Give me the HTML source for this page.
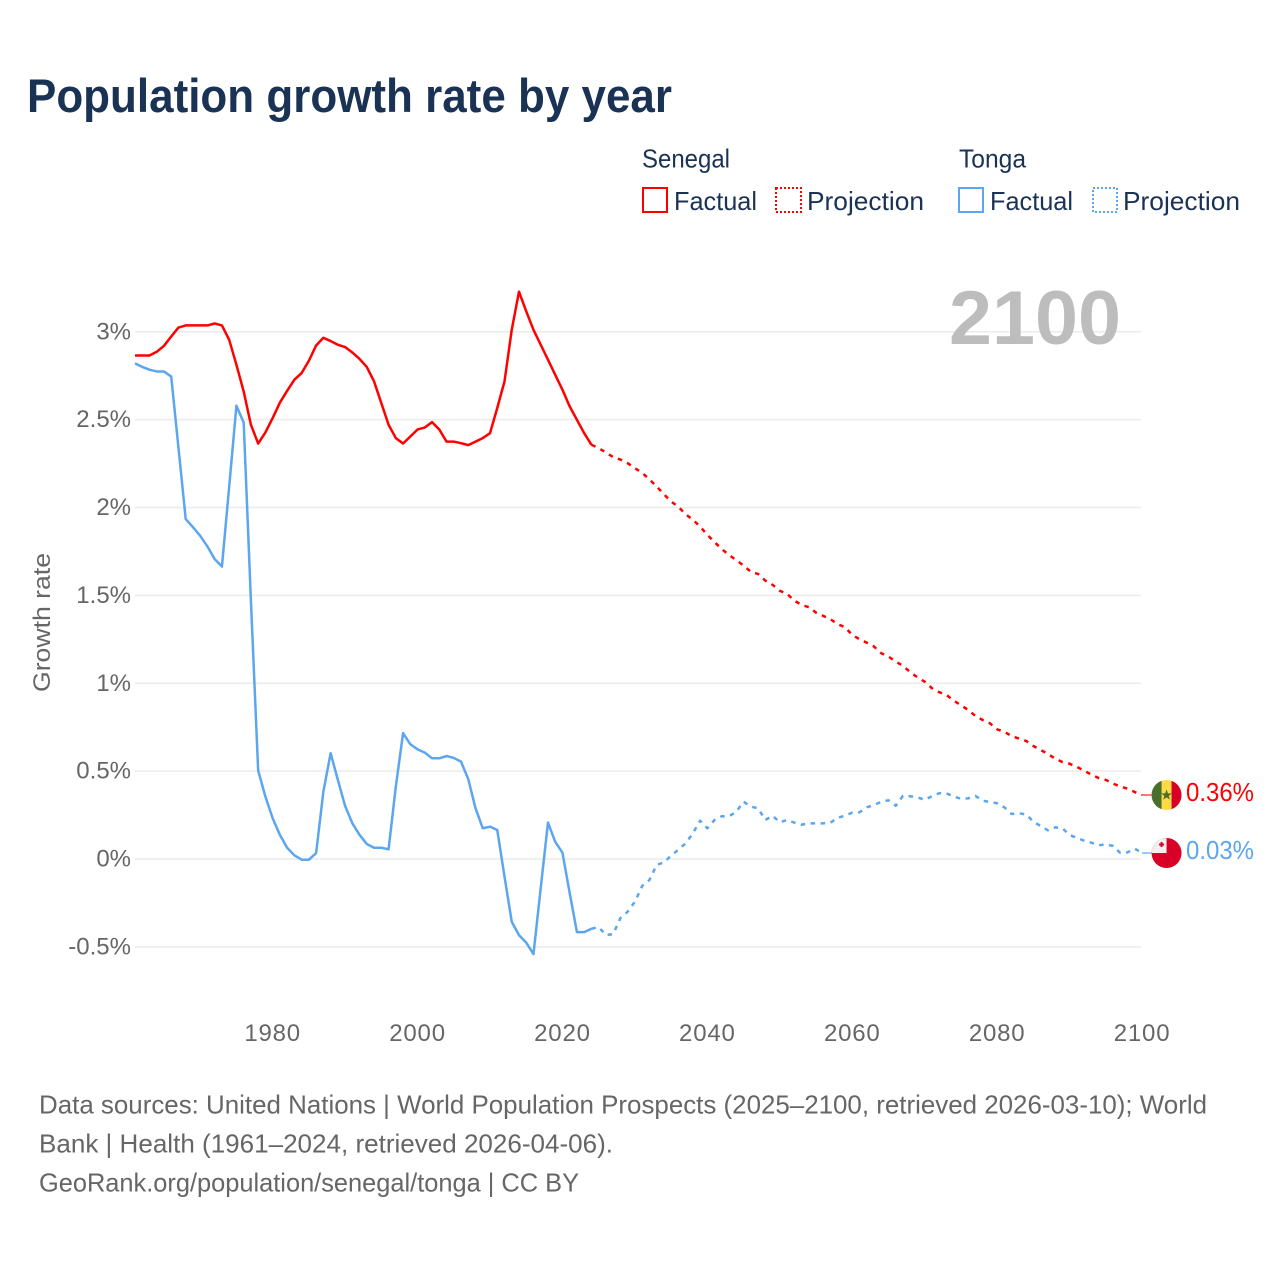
<!DOCTYPE html>
<html lang="en">
<head>
<meta charset="utf-8">
<title>Population growth rate by year</title>
<style>
html,body{margin:0;padding:0;background:#fff}
svg{display:block}
text{font-family:"Liberation Sans",sans-serif}
</style>
</head>
<body>
<svg id="chart" xmlns="http://www.w3.org/2000/svg" width="1280" height="1280" viewBox="0 0 1280 1280">
  <rect x="0" y="0" width="1280" height="1280" fill="#ffffff"/>
  <text x="27" y="112" font-size="47" font-weight="700" fill="#1a3354" textLength="645" lengthAdjust="spacingAndGlyphs">Population growth rate by year</text>

  <g font-size="26" fill="#1a3354">
    <text x="642" y="167.5" textLength="88" lengthAdjust="spacingAndGlyphs">Senegal</text>
    <text x="959" y="167.5" textLength="67" lengthAdjust="spacingAndGlyphs">Tonga</text>
    <rect x="643" y="188" width="24" height="24" fill="none" stroke="#ff0000" stroke-width="2"/>
    <text x="674" y="210" textLength="83" lengthAdjust="spacingAndGlyphs">Factual</text>
    <rect x="776" y="188" width="25" height="24" fill="none" stroke="#ff0000" stroke-width="2" stroke-dasharray="2 2"/>
    <text x="807" y="210" textLength="117" lengthAdjust="spacingAndGlyphs">Projection</text>
    <rect x="959" y="188" width="24" height="24" fill="none" stroke="#5ba6ee" stroke-width="2"/>
    <text x="990" y="210" textLength="83" lengthAdjust="spacingAndGlyphs">Factual</text>
    <rect x="1093" y="188" width="24" height="24" fill="none" stroke="#5ba6ee" stroke-width="2" stroke-dasharray="2 2"/>
    <text x="1123" y="210" textLength="117" lengthAdjust="spacingAndGlyphs">Projection</text>
  </g>

  <g id="grid"></g>
  <text x="949" y="344" font-size="76" font-weight="700" fill="#bdbdbd" textLength="172" lengthAdjust="spacingAndGlyphs">2100</text>
  <g id="yLabels" font-size="24" fill="#666666" text-anchor="end"></g>
  <g id="xLabels" font-size="24" fill="#666666" text-anchor="middle" letter-spacing="0.8"></g>
  <text transform="translate(50,692) rotate(-90)" x="0" y="0" font-size="24" fill="#666666" textLength="139" lengthAdjust="spacingAndGlyphs">Growth rate</text>

  <g fill="none" stroke-width="2.5" stroke-linejoin="round">
    <path id="senegalFactualLine" stroke="#ff0000"/>
    <path id="senegalProjectionLine" stroke="#ff0000" stroke-width="2.5" stroke-dasharray="4.5 5.5"/>
    <path id="tongaFactualLine" stroke="#5ba6ee"/>
    <path id="tongaProjectionLine" stroke="#5ba6ee" stroke-width="2.5" stroke-dasharray="4.5 5.5"/>
    <path id="senegalConnector" stroke="#ff0000" stroke-width="1.5" opacity="0.7"/>
    <path id="tongaConnector" stroke="#5ba6ee" stroke-width="1.5" opacity="0.8"/>
  </g>

  <defs>
    <clipPath id="flagClip"><circle cx="0" cy="0" r="15"/></clipPath>
  </defs>
  <g id="senegalFlag">
    <g clip-path="url(#flagClip)">
      <rect x="-15" y="-15" width="30" height="30" fill="#ffda44"/>
      <rect x="-15" y="-15" width="10" height="30" fill="#496e2d"/>
      <rect x="5" y="-15" width="10" height="30" fill="#d80027"/>
      <polygon points="0,-5.5 1.4,-1.6 5.4,-1.6 2.2,0.8 3.4,4.6 0,2.3 -3.4,4.6 -2.2,0.8 -5.4,-1.6 -1.4,-1.6" fill="#496e2d"/>
    </g>
  </g>
  <g id="tongaFlag">
    <g clip-path="url(#flagClip)">
      <rect x="-15" y="-15" width="30" height="30" fill="#d80027"/>
      <rect x="-15" y="-15" width="15" height="15" fill="#f0f0f0"/>
      <rect x="-7.5" y="-9.5" width="5" height="2" fill="#d80027"/>
      <rect x="-6" y="-11" width="2" height="5" fill="#d80027"/>
    </g>
  </g>
  <text id="senegalValue" x="1186" font-size="26" fill="#ff0000" textLength="68" lengthAdjust="spacingAndGlyphs"></text>
  <text id="tongaValue" x="1186" font-size="26" fill="#5ba6ee" textLength="68" lengthAdjust="spacingAndGlyphs"></text>

  <g font-size="26" fill="#666666">
    <text x="39" y="1113.5" textLength="1168" lengthAdjust="spacingAndGlyphs">Data sources: United Nations | World Population Prospects (2025–2100, retrieved 2026-03-10); World</text>
    <text x="39" y="1152.5" textLength="574" lengthAdjust="spacingAndGlyphs">Bank | Health (1961–2024, retrieved 2026-04-06).</text>
    <text x="39" y="1191.5" textLength="540" lengthAdjust="spacingAndGlyphs">GeoRank.org/population/senegal/tonga | CC BY</text>
  </g>
</svg>
<script>
const yTicks = [3, 2.5, 2, 1.5, 1, 0.5, 0, -0.5];
const xTicks = [1980, 2000, 2020, 2040, 2060, 2080, 2100];
const factualStartYear = 1961;
const projectionStartYear = 2024;
const senegalFactual = [2.865,2.865,2.865,2.886,2.920,2.973,3.024,3.036,3.036,3.036,3.036,3.047,3.036,2.954,2.812,2.660,2.471,2.364,2.427,2.509,2.597,2.664,2.727,2.765,2.835,2.922,2.966,2.947,2.926,2.913,2.882,2.845,2.799,2.717,2.594,2.471,2.395,2.364,2.404,2.444,2.455,2.486,2.444,2.375,2.375,2.366,2.355,2.375,2.395,2.423,2.566,2.717,3.011,3.228,3.116,3.011,2.926,2.841,2.755,2.670,2.575,2.499,2.423,2.357];
const tongaFactual = [2.82,2.80,2.784,2.774,2.774,2.745,2.34,1.934,1.888,1.839,1.778,1.706,1.664,2.119,2.579,2.484,1.47,0.503,0.355,0.232,0.137,0.064,0.021,-0.004,-0.004,0.034,0.383,0.602,0.450,0.302,0.203,0.137,0.085,0.064,0.064,0.055,0.412,0.716,0.653,0.624,0.605,0.573,0.573,0.586,0.575,0.554,0.454,0.289,0.175,0.184,0.165,-0.10,-0.357,-0.433,-0.476,-0.541,-0.165,0.207,0.098,0.036,-0.194,-0.416,-0.416,-0.397];
const senegalProjection = [2.357,2.338,2.313,2.287,2.273,2.252,2.224,2.197,2.161,2.119,2.076,2.034,2.004,1.962,1.93,1.892,1.844,1.803,1.763,1.73,1.7,1.67,1.634,1.622,1.584,1.56,1.526,1.509,1.47,1.446,1.433,1.402,1.383,1.364,1.336,1.319,1.275,1.25,1.231,1.209,1.171,1.152,1.123,1.099,1.063,1.034,1.009,0.972,0.949,0.934,0.901,0.875,0.848,0.814,0.791,0.772,0.738,0.723,0.7,0.685,0.672,0.643,0.62,0.598,0.571,0.552,0.542,0.524,0.503,0.48,0.461,0.45,0.429,0.412,0.4,0.381,0.364];
const tongaProjection = [-0.397,-0.387,-0.433,-0.427,-0.336,-0.30,-0.243,-0.154,-0.12,-0.034,-0.019,0.019,0.053,0.089,0.146,0.218,0.175,0.222,0.243,0.243,0.269,0.326,0.298,0.289,0.222,0.246,0.209,0.222,0.207,0.195,0.203,0.203,0.203,0.207,0.235,0.246,0.264,0.266,0.294,0.307,0.326,0.334,0.303,0.359,0.357,0.351,0.336,0.357,0.374,0.374,0.355,0.343,0.345,0.359,0.332,0.324,0.317,0.294,0.256,0.26,0.254,0.212,0.188,0.163,0.18,0.175,0.137,0.12,0.104,0.093,0.078,0.084,0.074,0.034,0.038,0.059,0.034];
const senegalEndLabel = "0.36%";
const tongaEndLabel = "0.03%";

const SVG_NS = "http://www.w3.org/2000/svg";
function xScale(year) { return 135 + (year - 1961) * 7.245; }
function yScale(value) { return 859 - value * 175.75; }
function linePath(values, startYear) {
  return values.map(function (v, i) {
    return (i === 0 ? "M" : "L") + xScale(startYear + i).toFixed(2) + " " + yScale(v).toFixed(2);
  }).join("");
}

const grid = document.getElementById("grid");
const yLabels = document.getElementById("yLabels");
yTicks.forEach(function (t) {
  const line = document.createElementNS(SVG_NS, "line");
  
  
  line.setAttribute("x1", 135);
  line.setAttribute("x2", 1141);
  line.setAttribute("y1", yScale(t));
  line.setAttribute("y2", yScale(t));
  line.setAttribute("stroke", "#ebebeb");
  line.setAttribute("stroke-width", "1.5");
  grid.appendChild(line);
  const label = document.createElementNS(SVG_NS, "text");
  
  
  label.setAttribute("x", 131);
  label.setAttribute("y", yScale(t) + 7.5);
  label.textContent = t + "%";
  yLabels.appendChild(label);
});

const xLabels = document.getElementById("xLabels");
xTicks.forEach(function (t) {
  const label = document.createElementNS(SVG_NS, "text");
  
  
  label.setAttribute("x", xScale(t));
  label.setAttribute("y", 1041);
  label.textContent = String(t);
  xLabels.appendChild(label);
});

document.getElementById("senegalFactualLine").setAttribute("d", linePath(senegalFactual, factualStartYear));
document.getElementById("tongaFactualLine").setAttribute("d", linePath(tongaFactual, factualStartYear));
document.getElementById("senegalProjectionLine").setAttribute("d", linePath(senegalProjection, projectionStartYear));
document.getElementById("tongaProjectionLine").setAttribute("d", linePath(tongaProjection, projectionStartYear));

const lastYear = projectionStartYear + senegalProjection.length - 1;
const senegalEndY = yScale(senegalProjection[senegalProjection.length - 1]);
const tongaEndY = yScale(tongaProjection[tongaProjection.length - 1]);
const endX = xScale(lastYear);
document.getElementById("senegalConnector").setAttribute("d", "M" + endX + " " + senegalEndY + "L" + (endX + 11) + " " + senegalEndY);
document.getElementById("tongaConnector").setAttribute("d", "M" + endX + " " + tongaEndY + "L" + (endX + 11) + " " + tongaEndY);
document.getElementById("senegalFlag").setAttribute("transform", "translate(" + (endX + 24.5) + "," + senegalEndY + ")");
document.getElementById("tongaFlag").setAttribute("transform", "translate(" + (endX + 24.5) + "," + tongaEndY + ")");
const senegalValue = document.getElementById("senegalValue");
senegalValue.setAttribute("y", senegalEndY + 6);
senegalValue.textContent = senegalEndLabel;
const tongaValue = document.getElementById("tongaValue");
tongaValue.setAttribute("y", tongaEndY + 6);
tongaValue.textContent = tongaEndLabel;
</script>
</body>
</html>
